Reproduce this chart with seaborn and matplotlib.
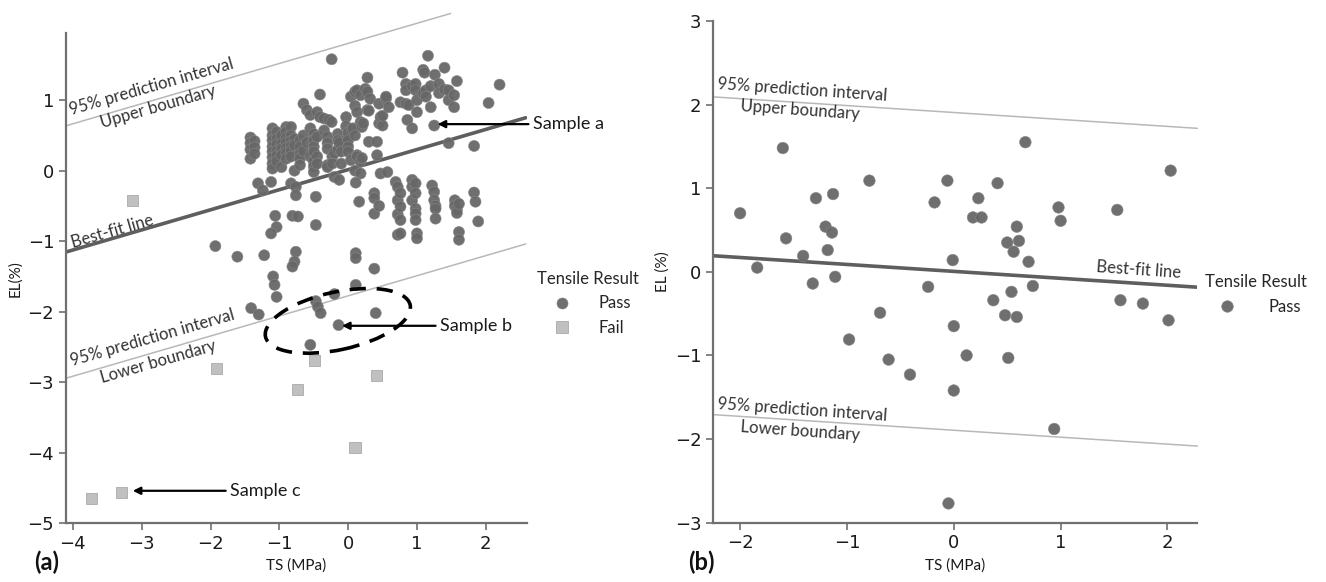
import numpy as np
import pandas as pd
import matplotlib
matplotlib.use("Agg")
import matplotlib.pyplot as plt
from matplotlib.patches import Ellipse
import seaborn as sns

# ---------------------------------------------------
#   data (TS in MPa, EL in %)
# ---------------------------------------------------
# (a) passing samples above / around the best-fit line
pass_upper_a = [
    (-1.42, 0.47), (-1.42, 0.39), (-1.42, 0.30), (-1.42, 0.17), (-1.36, 0.42), (-1.36, 0.33), (-1.36, 0.24),
    (-1.31, -0.18), (-1.24, -0.28), (-1.12, -0.16),
    (-1.10, 0.60), (-1.10, 0.50), (-1.10, 0.43), (-1.10, 0.34), (-1.10, 0.27), (-1.10, 0.19), (-1.10, 0.10), (-1.10, 0.03),
    (-1.04, 0.55), (-1.04, 0.45), (-1.04, 0.37), (-1.04, 0.28), (-1.04, 0.21), (-1.04, 0.13),
    (-0.97, 0.50), (-0.97, 0.38), (-0.97, 0.31), (-0.97, 0.22), (-0.97, 0.05),
    (-0.90, 0.62), (-0.90, 0.55), (-0.90, 0.47), (-0.90, 0.40), (-0.90, 0.32), (-0.90, 0.25), (-0.90, 0.17),
    (-0.83, 0.62), (-0.83, 0.50), (-0.83, 0.42), (-0.83, 0.35), (-0.83, 0.28), (-0.83, 0.20), (-0.83, -0.18),
    (-0.78, 0.45), (-0.78, 0.36), (-0.78, 0.00), (-0.76, -0.23),
    (-0.70, 0.43), (-0.70, 0.34), (-0.70, 0.24), (-0.70, 0.17), (-0.70, 0.08),
    (-0.65, 0.95), (-0.65, 0.50), (-0.65, 0.28), (-0.60, 0.86), (-0.60, 0.40),
    (-0.55, 0.79), (-0.55, 0.60), (-0.55, 0.20),
    (-0.50, 0.52), (-0.50, 0.43), (-0.50, 0.34), (-0.50, 0.27), (-0.50, 0.13), (-0.50, 0.06), (-0.50, -0.02),
    (-0.45, 0.83), (-0.45, 0.48), (-0.45, 0.20), (-0.45, 0.10), (-0.41, 1.08), (-0.41, 0.76),
    (-0.35, 0.74), (-0.35, 0.57), (-0.30, 0.48), (-0.30, 0.39), (-0.30, 0.31), (-0.30, 0.08), (-0.30, 0.05),
    (-0.28, 0.72), (-0.24, 1.58), (-0.24, 0.69), (-0.23, 0.20), (-0.23, 0.10),
    (-0.20, -0.09), (-0.20, 0.25), (-0.15, 0.52), (-0.15, 0.43), (-0.15, 0.30), (-0.13, 0.40), (-0.13, -0.13),
    (-0.10, 0.27), (-0.10, 0.10), (-0.03, 0.76), (-0.03, 0.63), (-0.01, 0.47),
    (0.00, 0.54), (0.00, 0.43), (0.00, 0.34), (0.00, 0.27), (0.04, 1.05), (0.04, 0.15), (0.05, 0.58), (0.07, 0.60),
    (0.10, 1.12), (0.10, 0.92), (0.10, 0.50), (0.10, 0.00), (0.13, 0.83), (0.13, 1.14), (0.13, 0.22), (0.13, 0.20),
    (0.18, 1.07), (0.18, 0.69), (0.18, 0.13), (0.18, -0.04), (0.20, 0.62), (0.20, 0.18), (0.22, 0.67),
    (0.25, 1.16), (0.28, 1.32), (0.28, 0.86), (0.28, 1.12), (0.30, 0.41), (0.30, 0.85), (0.32, 1.02),
    (0.42, 0.41), (0.42, 0.22), (0.45, 0.95), (0.45, 0.67), (0.47, 0.76), (0.47, -0.04), (0.50, 0.64),
    (0.50, 0.78), (0.55, 1.02), (0.55, 1.05), (0.57, -0.02), (0.59, 0.90),
    (0.76, 0.97), (0.79, 1.39), (0.84, 1.23), (0.84, 1.14), (0.84, 0.95), (0.86, 0.72), (0.88, 0.93),
    (0.93, 0.60), (0.93, 1.20), (0.98, 1.23), (0.98, 1.14), (1.00, 0.83), (1.00, 1.00),
    (1.09, 1.43), (1.09, 1.10), (1.11, 1.39), (1.13, 1.14), (1.13, 1.05), (1.16, 1.63), (1.20, 0.90), (1.20, 1.20),
    (1.25, 0.64), (1.26, 1.36), (1.32, 1.23), (1.32, 1.10), (1.40, 1.46), (1.40, 1.15),
    (1.46, 1.14), (1.46, 1.00), (1.46, 0.39), (1.54, 1.07), (1.54, 0.90), (1.58, 1.27),
    (1.83, 0.35), (2.04, 0.96), (2.20, 1.22),
]

# (a) passing samples below the best-fit line, right hand group
pass_lower_a = [
    (0.11, -0.17), (0.16, -0.44), (0.38, -0.32), (0.38, -0.39), (0.38, -0.61), (0.45, -0.50),
    (0.69, -0.16), (0.72, -0.23), (0.72, -0.42), (0.72, -0.62), (0.72, -0.91),
    (0.76, -0.32), (0.76, -0.51), (0.76, -0.70), (0.76, -0.89),
    (0.93, -0.13), (0.93, -0.23), (0.93, -0.42), (0.98, -0.18), (0.98, -0.32), (0.98, -0.54),
    (0.98, -0.61), (0.98, -0.70), (1.00, -0.89), (1.00, -0.96),
    (1.22, -0.21), (1.25, -0.30), (1.25, -0.42), (1.27, -0.50), (1.27, -0.54), (1.27, -0.68),
    (1.55, -0.42), (1.55, -0.50), (1.58, -0.55), (1.58, -0.60), (1.61, -0.47), (1.61, -0.87), (1.61, -0.98),
    (1.83, -0.31), (1.85, -0.44), (1.89, -0.72),
]

# (a) scattered passing samples towards the lower boundary
pass_spread_a = [
    (-0.47, -0.37), (-0.47, -0.77), (-0.76, -0.35), (-1.06, -0.64), (-1.04, -0.80), (-1.12, -0.89),
    (-0.81, -0.64), (-0.73, -0.65), (-1.93, -1.07), (-1.61, -1.22), (-1.22, -1.20),
    (-0.76, -1.15), (-0.78, -1.29), (-0.81, -1.36), (-1.09, -1.50), (-1.07, -1.62), (-1.04, -1.79),
    (-1.41, -1.95), (-1.30, -2.04), (-0.47, -1.85), (-0.44, -1.93), (-0.40, -2.02), (-0.20, -1.75),
    (-0.14, -2.19), (-0.55, -2.47), (0.11, -1.17), (0.11, -1.24), (0.38, -1.39), (0.11, -1.62), (0.40, -2.02),
]

# (a) failed samples
fail_a = [(-3.13, -0.42), (-1.91, -2.80), (-0.74, -3.10), (-0.49, -2.69), (0.41, -2.90),
          (0.10, -3.93), (-3.73, -4.65), (-3.29, -4.56)]

# (b) all passing
pass_b = [
    (-2.00, 0.70), (-1.84, 0.05), (-1.60, 1.48), (-1.57, 0.40), (-1.41, 0.19), (-1.32, -0.14), (-1.29, 0.88),
    (-1.20, 0.54), (-1.14, 0.47), (-1.18, 0.26), (-1.13, 0.93), (-1.11, -0.06), (-0.98, -0.81), (-0.79, 1.09),
    (-0.69, -0.49), (-0.61, -1.05), (-0.41, -1.23), (-0.18, 0.83), (-0.24, -0.18), (-0.06, 1.09), (-0.01, 0.14),
    (0.00, -0.65), (0.00, -1.42), (-0.05, -2.77), (0.12, -1.00), (0.23, 0.88), (0.18, 0.65), (0.26, 0.65),
    (0.41, 1.06), (0.37, -0.34), (0.50, 0.35), (0.61, 0.37), (0.56, 0.24), (0.59, 0.54), (0.48, -0.52),
    (0.59, -0.54), (0.54, -0.24), (0.51, -1.03), (0.67, 1.55), (0.70, 0.12), (0.74, -0.17), (0.98, 0.77),
    (1.00, 0.61), (0.94, -1.88), (1.53, 0.74), (1.56, -0.34), (1.77, -0.38), (2.03, 1.21), (2.01, -0.58),
]

# fitted line (slope, intercept) and half width of the 95% prediction interval
fit_a = (0.285, 0.015, 1.79)
fit_b = (-0.083, 0.005, 1.90)

PASS_COLOR = "#676767"
FAIL_COLOR = "#bdbdbd"
TEXT_FONT = ["Lato", "DejaVu Sans"]

sns.set_style("ticks")
plt.rcParams["font.family"] = ["DejaVu Sans"]


def make_frame(points, result):
    df = pd.DataFrame(points, columns=["TS", "EL"])
    df["Tensile Result"] = result
    return df


df_a = pd.concat([make_frame(pass_upper_a + pass_lower_a + pass_spread_a, "Pass"),
                  make_frame(fail_a, "Fail")], ignore_index=True)
df_b = make_frame(pass_b, "Pass")


def style_axes(ax, xlim, ylim, xticks, yticks, ylabel):
    ax.set_xlim(*xlim)
    ax.set_ylim(*ylim)
    ax.set_xticks(xticks)
    ax.set_yticks(yticks)
    sns.despine(ax=ax)
    for side in ["left", "bottom"]:
        ax.spines[side].set_color("#707070")
        ax.spines[side].set_linewidth(1.6)
    ax.tick_params(colors="#707070", labelcolor="#1a1a1a", labelsize=13, length=5, width=1.2)
    ax.set_xlabel("TS (MPa)", family=TEXT_FONT, fontsize=11, color="#1a1a1a")
    ax.set_ylabel(ylabel, family=TEXT_FONT, fontsize=11, color="#1a1a1a")


def draw_fit(ax, fit, x0, x1, x1_upper):
    slope, icpt, half = fit
    xs = np.array([x0, x1])
    ax.plot(xs, slope * xs + icpt, color="#5e5e5e", lw=2.6, zorder=1)
    xu = np.array([x0, x1_upper])
    ax.plot(xu, slope * xu + icpt + half, color="#b8b8b8", lw=1.1, zorder=1, clip_on=False)
    ax.plot(xs, slope * xs + icpt - half, color="#b8b8b8", lw=1.1, zorder=1, clip_on=False)


def note(ax, x, y, s, rot):
    ax.text(x, y, s, rotation=rot, rotation_mode="anchor", ha="center", va="center",
            family=TEXT_FONT, fontsize=12, color="#333333")


fig = plt.figure(figsize=(13.26, 5.82), dpi=100)
ax_a = fig.add_axes([0.0498, 0.101, 0.3477, 0.842])
ax_b = fig.add_axes([0.538, 0.102, 0.365, 0.862])

# ---------------- (a) ----------------
draw_fit(ax_a, fit_a, -4.1, 2.58, 1.49)
sns.scatterplot(data=df_a, x="TS", y="EL", hue="Tensile Result", style="Tensile Result",
                hue_order=["Pass", "Fail"], style_order=["Pass", "Fail"],
                palette={"Pass": PASS_COLOR, "Fail": FAIL_COLOR}, markers={"Pass": "o", "Fail": "s"},
                s=64, edgecolor="#8a8a8a", linewidth=0.4, alpha=0.95, ax=ax_a, zorder=3)
style_axes(ax_a, (-4.1, 2.6), (-5, 1.95), range(-4, 3), range(-5, 2), "EL(%)")

note(ax_a, -2.86, 1.19, "95% prediction interval", 16)
note(ax_a, -2.76, 0.90, "Upper boundary", 16)
note(ax_a, -3.42, -0.86, "Best-fit line", 16)
note(ax_a, -2.84, -2.37, "95% prediction interval", 16)
note(ax_a, -2.76, -2.71, "Lower boundary", 16)

ax_a.add_patch(Ellipse((-0.15, -2.13), 2.15, 0.82, angle=12, fill=False, ls=(0, (4.5, 3)),
                       lw=2.6, color="black", zorder=4))

arrow = dict(arrowstyle="-|>", color="black", lw=1.6, mutation_scale=11, shrinkA=0, shrinkB=0)
for label, head, tail, y in [("Sample a", 1.30, 2.62, 0.66),
                             ("Sample b", -0.09, 1.27, -2.20),
                             ("Sample c", -3.13, -1.78, -4.54)]:
    ax_a.annotate("", xy=(head, y), xytext=(tail, y), arrowprops=arrow, annotation_clip=False, zorder=5)
    ax_a.text(tail + 0.06, y, label, ha="left", va="center", family=TEXT_FONT, fontsize=13,
              color="#1a1a1a", clip_on=False)

sns.move_legend(ax_a, "upper left", bbox_to_anchor=(0.99, 0.545), frameon=False,
                title="Tensile Result", prop={"family": TEXT_FONT, "size": 12},
                title_fontproperties={"family": TEXT_FONT, "size": 12}, handletextpad=1.2)

# ---------------- (b) ----------------
draw_fit(ax_b, fit_b, -2.25, 2.28, 2.28)
sns.scatterplot(data=df_b, x="TS", y="EL", hue="Tensile Result", palette={"Pass": PASS_COLOR},
                s=70, edgecolor="#8a8a8a", linewidth=0.4, alpha=0.95, ax=ax_b, zorder=3)
style_axes(ax_b, (-2.25, 2.28), (-3, 3), range(-2, 3), range(-3, 4), "EL (%)")

note(ax_b, -1.42, 2.17, "95% prediction interval", -4)
note(ax_b, -1.44, 1.93, "Upper boundary", -4)
note(ax_b, 1.73, 0.02, "Best-fit line", -4)
note(ax_b, -1.42, -1.65, "95% prediction interval", -4)
note(ax_b, -1.44, -1.91, "Lower boundary", -4)

sns.move_legend(ax_b, "upper left", bbox_to_anchor=(0.985, 0.525), frameon=False,
                title="Tensile Result", prop={"family": TEXT_FONT, "size": 12},
                title_fontproperties={"family": TEXT_FONT, "size": 12}, handletextpad=1.5)

fig.text(0.026, 0.02, "(a)", family=TEXT_FONT, fontsize=17, fontweight="bold", color="#111111")
fig.text(0.519, 0.02, "(b)", family=TEXT_FONT, fontsize=17, fontweight="bold", color="#111111")

fig.savefig("out.png", dpi=100)
